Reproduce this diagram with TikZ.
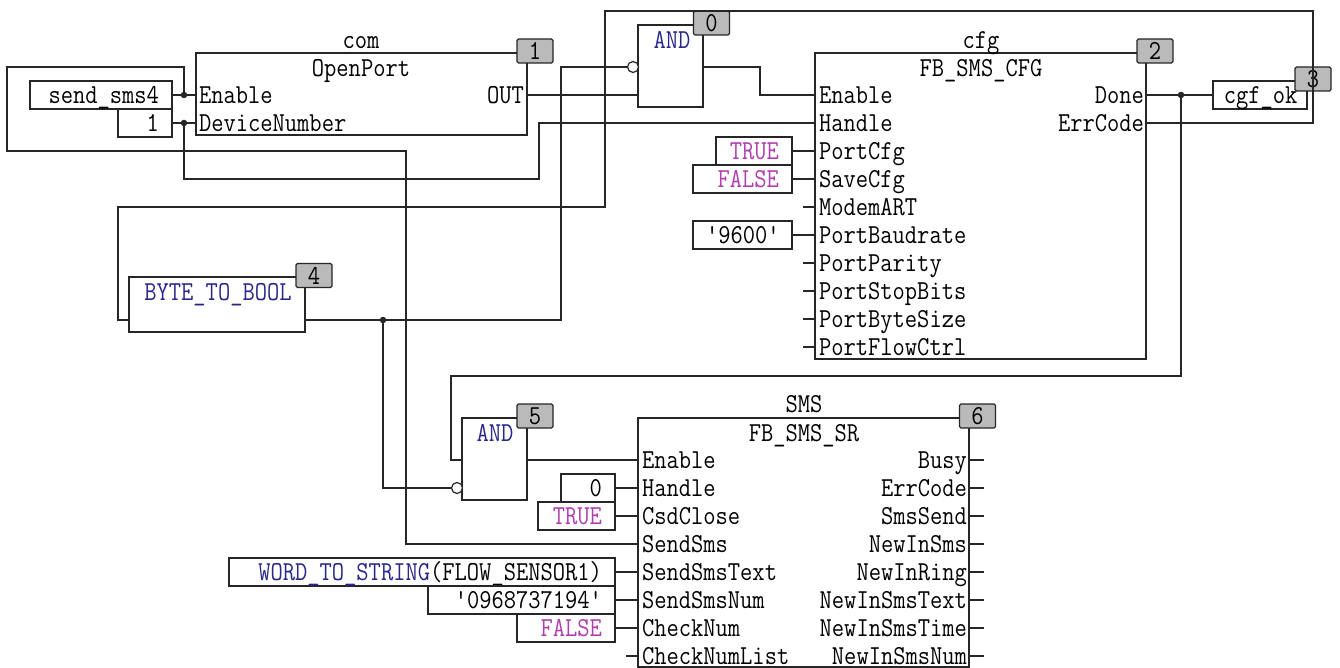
\documentclass[tikz,border=0pt]{standalone}
\usepackage{fontspec}
\setmonofont[FakeStretch=0.87]{Latin Modern Mono}
\usepackage{xcolor}
\usepackage{tikz}
\usetikzlibrary{positioning, calc}
\definecolor{plcwire}{RGB}{38, 38, 38}
\definecolor{plcnavy}{RGB}{40, 40, 140}
\definecolor{plcpink}{RGB}{176, 60, 176}
\definecolor{plcgray}{RGB}{186, 186, 186}
\newcommand{\plcfont}{\ttfamily\fontsize{27.4pt}{30pt}\selectfont}
\tikzset{
    wire/.style={draw=plcwire, line width=1.5pt},
    fblock/.style={rectangle, draw=plcwire, line width=1.5pt, fill=white, anchor=north west, inner sep=0pt, outer sep=0pt},
    constbox/.style={rectangle, draw=plcwire, line width=1.5pt, fill=white, anchor=north west, inner xsep=13pt, inner ysep=0pt, outer sep=0pt, minimum height=28pt, text width=#1, align=right, font=\plcfont, text height=17pt, text depth=0pt, text=black},
    badge/.style={rectangle, draw=plcwire, line width=1.2pt, fill=plcgray, rounded corners=1.5pt, minimum width=36pt, minimum height=24pt, inner sep=0pt, outer sep=0pt, font=\plcfont, text height=17pt, text depth=0pt},
    pintext/.style={inner sep=0pt, outer sep=0pt, font=\plcfont, text height=17pt, text depth=0pt},
    negate/.style={circle, draw=plcwire, line width=1.2pt, fill=white, minimum size=11pt, inner sep=0pt, outer sep=0pt},
    junction/.style={circle, fill=plcwire, minimum size=6.5pt, inner sep=0pt, outer sep=0pt}
}
\begin{document}
\begin{tikzpicture}[x=1pt, y=-1pt]
    \useasboundingbox (0,0) rectangle (1340,668);
    \fill[white] (0,0) rectangle (1340,668);

    % --- FUNCTION BLOCKS ---
    \node[fblock, minimum width=331pt, minimum height=82pt] (com) at (196,53) {};
    \node[fblock, minimum width=331pt, minimum height=306pt] (cfg) at (815,53) {};
    \node[fblock, minimum width=331pt, minimum height=249pt] (sms) at (638,418) {};
    \node[fblock, minimum width=65pt, minimum height=82pt] (and0) at (638,25) {};
    \node[fblock, minimum width=65pt, minimum height=82pt] (and5) at (462,418) {};
    \node[fblock, minimum width=176pt, minimum height=55pt] (bytebool) at (129,277) {};

    % Block names
    \node[pintext] (comName) at (361,40) {com};
    \node[pintext] (comType) at (361,68) {OpenPort};
    \node[pintext] (cfgName) at (981,40) {cfg};
    \node[pintext] (cfgType) at (981,68) {FB\_SMS\_CFG};
    \node[pintext] (smsName) at (804,404) {SMS};
    \node[pintext] (smsType) at (804,433) {FB\_SMS\_SR};
    \node[pintext, plcnavy] (and0Type) at (672,40) {AND};
    \node[pintext, plcnavy] (and5Type) at (495,433) {AND};
    \node[pintext, plcnavy] (byteboolType) at (218,292) {BYTE\_TO\_BOOL};

    % Pins of the blocks
    \foreach \n/\t/\y in {en/Enable/95, dev/DeviceNumber/123} {
        \coordinate (com-\n) at (196,\y);
        \node[pintext, anchor=west] (comLabel-\n) at (199,\y) {\t};
    }
    \coordinate (com-out) at (527,95);
    \node[pintext, anchor=east] (comLabel-out) at (524,95) {OUT};

    \foreach \n/\t/\y in {en/Enable/95, han/Handle/123, pcfg/PortCfg/151, scfg/SaveCfg/179, modem/ModemART/207, baud/PortBaudrate/235, par/PortParity/263, stop/PortStopBits/291, size/PortByteSize/319, flow/PortFlowCtrl/347} {
        \coordinate (cfg-\n) at (815,\y);
        \node[pintext, anchor=west] (cfgLabel-\n) at (819,\y) {\t};
    }
    \foreach \n/\t/\y in {done/Done/95, err/ErrCode/123} {
        \coordinate (cfg-\n) at (1146,\y);
        \node[pintext, anchor=east] (cfgLabel-\n) at (1144,\y) {\t};
    }

    \foreach \n/\t/\y in {en/Enable/460, han/Handle/488, csd/CsdClose/516, send/SendSms/544, text/SendSmsText/572, num/SendSmsNum/600, chk/CheckNum/628, list/CheckNumList/656} {
        \coordinate (sms-\n) at (638,\y);
        \node[pintext, anchor=west] (smsLabel-\n) at (642,\y) {\t};
    }
    \foreach \n/\t/\y in {busy/Busy/460, err/ErrCode/488, sent/SmsSend/516, insms/NewInSms/544, ring/NewInRing/572, intext/NewInSmsText/600, intime/NewInSmsTime/628, innum/NewInSmsNum/656} {
        \coordinate (sms-\n) at (969,\y);
        \coordinate (smsStub-\n) at (984,\y);
        \node[pintext, anchor=east] (smsLabel-\n) at (967,\y) {\t};
        \draw[wire] (sms-\n) -- (smsStub-\n);
    }

    % --- CONSTANTS AND VARIABLES ---
    \node[constbox=116pt] (sendsms) at (30,81) {send\_sms4};
    \node[constbox=28pt] (devnum) at (118,109) {1};
    \node[constbox=50pt] (cfgTrue) at (716,137) {\textcolor{plcpink}{TRUE}};
    \node[constbox=73pt] (cfgFalse) at (693,165) {\textcolor{plcpink}{FALSE}};
    \node[constbox=73pt] (baud) at (693,221) {'9600'};
    \node[constbox=75pt, inner xsep=9.5pt] (cgfok) at (1213,81) {cgf\_ok};
    \node[constbox=28pt] (smsHandle) at (561,474) {0};
    \node[constbox=51pt] (smsTrue) at (538,502) {\textcolor{plcpink}{TRUE}};
    \node[constbox=360pt] (smsText) at (229,558) {\textcolor{plcnavy}{WORD\_TO\_STRING}(FLOW\_SENSOR1)};
    \node[constbox=161pt] (smsNum) at (428,586) {'0968737194'};
    \node[constbox=72pt] (smsFalse) at (517,614) {\textcolor{plcpink}{FALSE}};

    % --- EXECUTION ORDER ---
    \node[badge] (order0) at (711.5,23) {0};
    \node[badge] (order1) at (535,51) {1};
    \node[badge] (order2) at (1155,51) {2};
    \node[badge] (order3) at (1313,79) {3};
    \node[badge] (order4) at (314,275.5) {4};
    \node[badge] (order5) at (535,416) {5};
    \node[badge] (order6) at (977.5,416) {6};

    % --- JUNCTIONS ---
    \node[junction] (jEnable) at (184,95) {};
    \node[junction] (jDevice) at (184,123) {};
    \node[junction] (jDone) at (1181,95) {};
    \node[junction] (jByte) at (383,320) {};
    \node[negate] (neg0) at (633,67) {};
    \node[negate] (neg5) at (457,488) {};

    % Bends of the wires
    \coordinate (loopA) at (184,67);
    \coordinate (loopB) at (7,67);
    \coordinate (loopC) at (7,151);
    \coordinate (loopD) at (406,151);
    \coordinate (loopE) at (406,544);
    \coordinate (handA) at (184,179);
    \coordinate (handB) at (539,179);
    \coordinate (handC) at (539,123);
    \coordinate (feedA) at (129,320);
    \coordinate (feedB) at (118,320);
    \coordinate (feedC) at (118,207);
    \coordinate (feedD) at (605,207);
    \coordinate (feedE) at (605,11);
    \coordinate (feedF) at (1313,11);
    \coordinate (feedG) at (1313,123);
    \coordinate (byteOut) at (305,320);
    \coordinate (negA) at (561,320);
    \coordinate (negB) at (561,67);
    \coordinate (negC) at (383,488);
    \coordinate (doneA) at (1181,376);
    \coordinate (doneB) at (451,376);
    \coordinate (doneC) at (451,460);
    \coordinate (doneD) at (462,460);
    \coordinate (and0In) at (638,95);
    \coordinate (and0Out) at (703,67);
    \coordinate (and0A) at (760,67);
    \coordinate (and0B) at (760,95);
    \coordinate (and5Out) at (527,460);
    \coordinate (listStub) at (626,656);

    % --- WIRES ---
    \draw[wire] (sendsms.east) -- (com-en);
    \draw[wire] (devnum.east) -- (com-dev);
    \draw[wire] (jEnable) -- (loopA) -- (loopB) -- (loopC) -- (loopD) -- (loopE) -- (sms-send);
    \draw[wire] (jDevice) -- (handA) -- (handB) -- (handC) -- (cfg-han);
    \draw[wire] (com-out) -- (and0In);
    \draw[wire] (and0Out) -- (and0A) -- (and0B) -- (cfg-en);
    \draw[wire] (byteOut) -- (negA) -- (negB) -- (neg0.west);
    \draw[wire] (jByte) -- (negC) -- (neg5.west);
    \draw[wire] (feedA) -- (feedB) -- (feedC) -- (feedD) -- (feedE) -- (feedF) -- (feedG) -- (cfg-err);
    \draw[wire] (cfg-done) -- (cgfok.west);
    \draw[wire] (jDone) -- (doneA) -- (doneB) -- (doneC) -- (doneD);
    \draw[wire] (and5Out) -- (sms-en);

    \draw[wire] (cfgTrue.east) -- (cfg-pcfg);
    \draw[wire] (cfgFalse.east) -- (cfg-scfg);
    \draw[wire] (baud.east) -- (cfg-baud);
    \foreach \n in {modem, par, stop, size, flow} {
        \coordinate (cfgStub-\n) at ($(cfg-\n)+(-12,0)$);
        \draw[wire] (cfg-\n) -- (cfgStub-\n);
    }
    \draw[wire] (smsHandle.east) -- (sms-han);
    \draw[wire] (smsTrue.east) -- (sms-csd);
    \draw[wire] (smsText.east) -- (sms-text);
    \draw[wire] (smsNum.east) -- (sms-num);
    \draw[wire] (smsFalse.east) -- (sms-chk);
    \draw[wire] (sms-list) -- (listStub);

\end{tikzpicture}
\end{document}
